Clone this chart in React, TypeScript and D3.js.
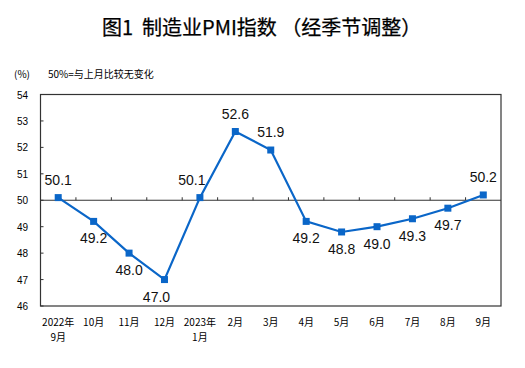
import React from "react";
import * as d3 from "d3";

const WIDTH = 525;
const HEIGHT = 368;
const MARGIN = { top: 94.5, right: 24, bottom: 62, left: 40.5 };

// categories: first line / second line of each x label
const months = ["2022年", "10月", "11月", "12月", "2023年", "2月", "3月", "4月", "5月", "6月", "7月", "8月", "9月"];
const monthsLine2 = ["9月", "", "", "", "1月", "", "", "", "", "", "", "", ""];
const pmi = [50.1, 49.2, 48.0, 47.0, 50.1, 52.6, 51.9, 49.2, 48.8, 49.0, 49.3, 49.7, 50.2];
const yTicks = [46, 47, 48, 49, 50, 51, 52, 53, 54];

const BLUE = "#0a66c8";
const CJK = "'Noto Sans CJK SC', sans-serif";
const NUM = "'Liberation Sans', Arial, sans-serif";

const App = () => {
  const x0 = MARGIN.left;
  const x1 = WIDTH - MARGIN.right;
  const yTop = MARGIN.top;
  const yBottom = HEIGHT - MARGIN.bottom;

  const xScale = d3.scaleBand<string>().domain(months.map((m, i) => i + "")).range([x0, x1]).padding(0);
  const yScale = d3.scaleLinear().domain([46, 54]).range([yBottom, yTop]);
  const cx = (i: number) => (xScale(i + "") || 0) + xScale.bandwidth() / 2;

  const line = d3
    .line<number>()
    .x((d, i) => cx(i))
    .y((d) => yScale(d));

  const y50 = yScale(50);

  return (
    <svg width={WIDTH} height={HEIGHT} style={{ position: "absolute", left: 0, top: 0, background: "#fff" }}>
      {/* title */}
      <text
        x={102}
        y={35}
        fontFamily={CJK}
        fontSize={20}
        fill="#000"
        stroke="#000"
        strokeWidth={0.25}
        style={{ whiteSpace: "pre" }}
      >
        {"图1  制造业PMI指数 （经季节调整）"}
      </text>
      <text x={14} y={78} fontFamily={CJK} fontSize={10} fill="#000">(%)</text>
      <text x={48} y={78} fontFamily={CJK} fontSize={10} fill="#000">50%=与上月比较无变化</text>

      {/* frame */}
      <rect x={x0} y={yTop} width={x1 - x0} height={yBottom - yTop} fill="none" stroke="#333" strokeWidth={1.2} />

      {/* y ticks */}
      {yTicks.map((t) => (
        <g key={t}>
          <line x1={x0} x2={x0 + 3} y1={yScale(t)} y2={yScale(t)} stroke="#333" />
          <text x={28} y={yScale(t) + 4} textAnchor="end" fontFamily={NUM} fontSize={10} fill="#000">
            {t}
          </text>
        </g>
      ))}

      {/* 50 baseline with category ticks */}
      <line x1={x0} x2={x1} y1={y50} y2={y50} stroke="#333" strokeWidth={1.2} />
      {months.slice(1).map((m, i) => {
        const bx = xScale(i + 1 + "") || 0;
        return <line key={i} x1={bx} x2={bx} y1={y50} y2={y50 - 3} stroke="#333" />;
      })}

      {/* x labels */}
      {months.map((m, i) => (
        <g key={i}>
          <text x={cx(i)} y={326} textAnchor="middle" fontFamily={CJK} fontSize={10} fill="#000">
            {m}
          </text>
          {monthsLine2[i] && (
            <text x={cx(i)} y={341} textAnchor="middle" fontFamily={CJK} fontSize={10} fill="#000">
              {monthsLine2[i]}
            </text>
          )}
        </g>
      ))}

      {/* series */}
      <path d={line(pmi) || ""} fill="none" stroke={BLUE} strokeWidth={2.2} />
      {pmi.map((v, i) => (
        <rect key={i} x={cx(i) - 3.5} y={yScale(v) - 3.5} width={7} height={7} fill={BLUE} />
      ))}

      {/* value labels */}
      {pmi.map((v, i) => {
        const above = v >= 50;
        const steepRise = i < pmi.length - 1 && pmi[i + 1] - v > 2;
        return (
          <text
            key={i}
            x={cx(i) + (steepRise ? -8 : 0)}
            y={yScale(v) + (above ? -13 : 22)}
            textAnchor="middle"
            fontFamily={NUM}
            fontSize={14}
            fill="#111"
          >
            {v.toFixed(1)}
          </text>
        );
      })}
    </svg>
  );
};

export default App;
